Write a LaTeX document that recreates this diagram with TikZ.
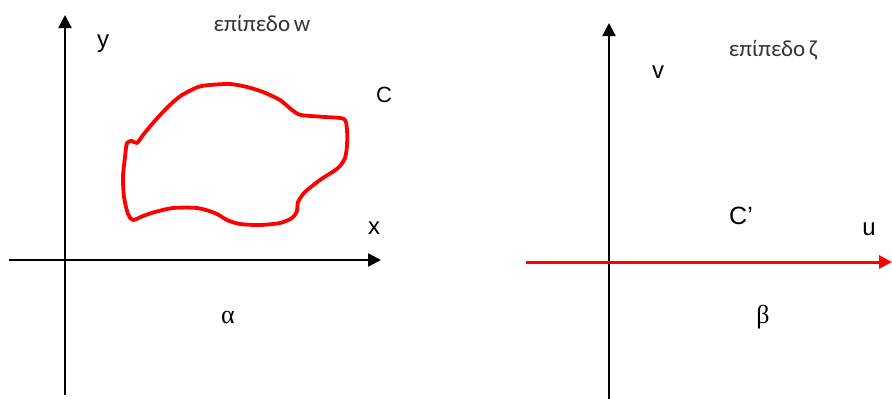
\documentclass[tikz,border=0pt]{standalone}
\usepackage{fontspec}
\setmainfont{Liberation Sans}
\newfontfamily\grk{Carlito}
\newfontfamily\grks{Liberation Serif}
\usetikzlibrary{arrows.meta}
\begin{document}
\begin{tikzpicture}[x=1pt,y=-1pt,
  axis/.style={line width=2.2pt,-{Triangle[length=13pt,width=13pt]}},
  plain/.style={line width=2.2pt},
  lbl/.style={inner sep=0pt,font=\fontsize{24}{24}\selectfont},
  ttl/.style={inner sep=0pt,font=\grk\fontsize{23}{23}\selectfont,text=black!80},
  grl/.style={inner sep=0pt,font=\grks\fontsize{26}{26}\selectfont}]
\useasboundingbox (0,0) rectangle (892,399);
% left axes
\coordinate (yb) at (65,395);
\coordinate (yt) at (65,15);
\coordinate (xl) at (9,260);
\coordinate (xr) at (381,260);
\draw[axis] (yb) -- (yt);
\draw[axis] (xl) -- (xr);
% right axes
\coordinate (vb) at (609,402);
\coordinate (vt) at (609,23);
\coordinate (ul) at (526,262);
\coordinate (ur) at (892,262);
\draw[axis] (vb) -- (vt);
\draw[axis,red,line width=3pt] (ul) -- (ur);
% curve C
\draw[red,line width=3.8pt,line join=round] plot[smooth cycle,tension=0.45] coordinates{
 (127,143) (132,141) (137,143) (143,135) (153,123) (162,113) (172,103) (182,95)
 (198,87) (210,85) (230,84) (247,87) (263,92) (280,100) (292,110) (301,115)
 (325,117) (344,119) (347,130) (347,145) (345,158) (338,168) (320,180) (305,192)
 (298,202) (297,211) (292,218) (280,223) (260,225) (240,224) (227,220) (215,213)
 (197,208) (173,208) (155,212) (143,216) (133,220) (128,214) (124,197) (123,177) (125,157)};
% labels
\node[lbl] (ly) at (103,44) {y};
\node[lbl] (lx) at (374,228) {x};
\node[lbl,font=\fontsize{22}{22}\selectfont] (lc) at (384,95) {C};
\node[ttl] (tw) at (262,23) {επίπεδο\,w};
\node[grl] (la) at (228,317) {α};
\node[lbl] (lv) at (658,72) {v};
\node[lbl] (lu) at (869,229) {u};
\node[lbl,font=\fontsize{25}{25}\selectfont] (lcp) at (741,216) {C’};
\node[ttl] (tz) at (773,50) {επίπεδο\,ζ};
\node[grl] (lb) at (763,317) {β};
\end{tikzpicture}
\end{document}
